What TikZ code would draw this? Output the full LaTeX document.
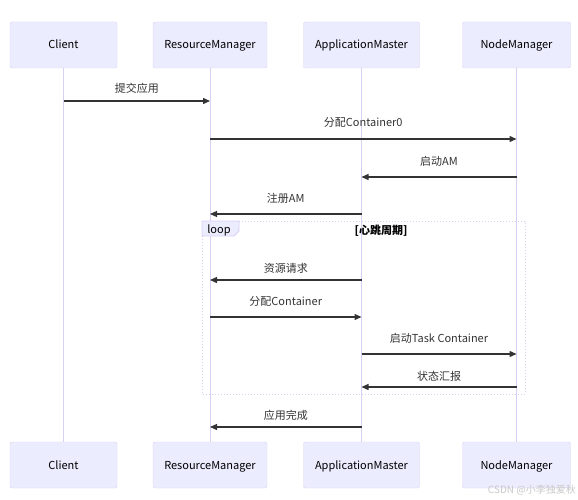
\documentclass[tikz,border=0pt]{standalone}
\usepackage{fontspec}
\usepackage{tikz}
\usetikzlibrary{arrows.meta,positioning,calc}
\newfontfamily\cjk{Noto Sans CJK SC}
\definecolor{actfill}{HTML}{ECECFF}
\definecolor{actline}{HTML}{D9CFF3}
\definecolor{ink}{HTML}{333333}
\definecolor{wmark}{HTML}{C8C8C8}
\tikzset{
  actor/.style={draw=actline,fill=actfill,rounded corners=2pt,inner sep=0pt,
                minimum width=#1,minimum height=46pt,
                text height=8pt,text depth=0pt,
                font=\cjk\fontsize{11}{13}\selectfont,text=black},
  life/.style={actline,line width=1pt},
  msg/.style={-{Triangle[length=7pt,width=6pt]},ink,line width=1.3pt},
  lbl/.style={font=\cjk\fontsize{11}{13}\selectfont,text=ink,inner sep=0pt,
              text height=8pt,text depth=0pt},
  loopbox/.style={draw=actline,dotted,line width=1pt},
  looptab/.style={draw=actline,fill=actfill,line width=0.8pt},
}

\begin{document}
\begin{tikzpicture}[x=1pt,y=-1pt]
  \useasboundingbox (0,0) rectangle (578,500);
  % participants, top and bottom, with their lifelines
  \foreach \n/\x/\w/\t in {cl/63.5/107/Client,rm/210/114/ResourceManager,
                           am/361.5/116/ApplicationMaster,nm/516.5/108/NodeManager}{
    \node[actor=\w pt] (\n-t) at (\x,45) {\t};
    \node[actor=\w pt] (\n-b) at (\x,465) {\t};
    \draw[life] (\n-t) -- (\n-b);
  }
  % loop frame
  \draw[loopbox] (202,221) rectangle (525,394);
  \draw[looptab] (202,221) -- (239,221) -- (239,231) -- (234,236) -- (202,236) -- cycle;
  \node[lbl,text=black] (looptag) at (219,229) {loop};
  \node[lbl,text=black,font=\cjk\bfseries\fontsize{11}{13}\selectfont] (loopcond) at (381,230) {[心跳周期]};
  % messages
  \foreach \y/\a/\b/\d/\t [count=\i] in {101/cl/rm/12/提交应用,139/rm/nm/16/分配Container0,
      177/nm/am/16/启动AM,214/am/rm/16/注册AM,280/am/rm/12/资源请求,
      317/rm/am/16/分配Container,354/am/nm/16/启动Task Container,
      387/nm/am/11/状态汇报,427/am/rm/12/应用完成}{
    \coordinate (m\i) at (0,\y);
    \draw[msg] (\a-t |- m\i) -- (\b-t |- m\i) node[lbl,midway,yshift=\d pt] (t\i) {\t};
  }
  \node[font=\cjk\fontsize{10}{12}\selectfont,text=wmark,anchor=east,inner sep=0pt]
    (wm) at (576,490) {CSDN @小李独爱秋};
\end{tikzpicture}
\end{document}
